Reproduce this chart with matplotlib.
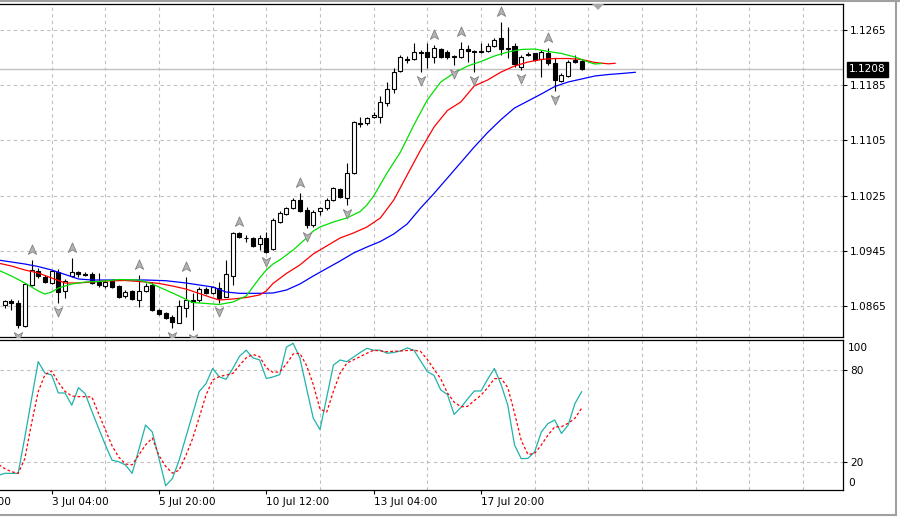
import matplotlib
matplotlib.use("Agg")
import matplotlib.pyplot as plt
import matplotlib.transforms as mtransforms
from matplotlib.path import Path
from matplotlib.lines import Line2D
from matplotlib.patches import Polygon
import numpy as np

# ---------------- data ----------------
bar_idx = list(range(9, 96))
opens = [1.08665, 1.08723, 1.08694, 1.08360, 1.08955, 1.09158, 1.09071, 1.08984, 1.09143, 1.08868,
         1.09085, 1.09143, 1.09114, 1.09114, 1.08998, 1.08940, 1.09013, 1.08940, 1.08795, 1.08868,
         1.08737, 1.08868, 1.08955, 1.08592, 1.08549, 1.08491, 1.08404, 1.08621, 1.08737, 1.08730,
         1.08897, 1.08839, 1.08911, 1.08781, 1.09085, 1.09709, 1.09636, 1.09636, 1.09549, 1.09636,
         1.09476, 1.09868, 1.09983, 1.10070, 1.10186, 1.10041, 1.09824, 1.10027, 1.10070, 1.10186,
         1.10346, 1.10215, 1.10578, 1.11302, 1.11302, 1.11389, 1.11389, 1.11593, 1.11795, 1.12056,
         1.12230, 1.12230, 1.12336, 1.12331, 1.12259, 1.12375, 1.12331, 1.12273, 1.12259, 1.12375,
         1.12339, 1.12339, 1.12346, 1.12418, 1.12534, 1.12389, 1.12418, 1.12118, 1.12302, 1.12312,
         1.12223, 1.12317, 1.12172, 1.11911, 1.11983, 1.12215, 1.12208]
highs = [1.08737, 1.08752, 1.08737, 1.08984, 1.09317, 1.09201, 1.09100, 1.09172, 1.09187, 1.09042,
         1.09346, 1.09158, 1.09143, 1.09143, 1.09129, 1.09027, 1.09042, 1.08955, 1.08882, 1.08882,
         1.09100, 1.08984, 1.08998, 1.08607, 1.08563, 1.08520, 1.08737, 1.09071, 1.08839, 1.08926,
         1.08926, 1.08940, 1.08998, 1.09317, 1.09723, 1.09723, 1.09679, 1.09651, 1.09679, 1.09723,
         1.09926, 1.10027, 1.10085, 1.10215, 1.10287, 1.10085, 1.10041, 1.10085, 1.10215, 1.10375,
         1.10360, 1.10723, 1.11331, 1.11389, 1.11389, 1.11462, 1.11694, 1.11897, 1.12099, 1.12288,
         1.12273, 1.12462, 1.12360, 1.12462, 1.12433, 1.12389, 1.12360, 1.12288, 1.12476, 1.12433,
         1.12360, 1.12462, 1.12462, 1.12534, 1.12766, 1.12694, 1.12462, 1.12288, 1.12336, 1.12324,
         1.12360, 1.12389, 1.12244, 1.12027, 1.12215, 1.12288, 1.12230]
lows = [1.08621, 1.08592, 1.08331, 1.08346, 1.08940, 1.09056, 1.08984, 1.08969, 1.08694, 1.08766,
        1.09071, 1.09071, 1.09085, 1.08969, 1.08926, 1.08911, 1.08911, 1.08766, 1.08766, 1.08737,
        1.08636, 1.08853, 1.08585, 1.08520, 1.08462, 1.08331, 1.08397, 1.08491, 1.08302, 1.08708,
        1.08824, 1.08824, 1.08694, 1.08775, 1.08955, 1.09636, 1.09578, 1.09505, 1.09462, 1.09418,
        1.09462, 1.09853, 1.09969, 1.10056, 1.10012, 1.09780, 1.09795, 1.09969, 1.10041, 1.10172,
        1.10215, 1.10114, 1.10563, 1.11244, 1.11273, 1.11375, 1.11302, 1.11549, 1.11737, 1.12041,
        1.12172, 1.12215, 1.12041, 1.12099, 1.12172, 1.12244, 1.12230, 1.12143, 1.12244, 1.12186,
        1.12041, 1.12317, 1.12331, 1.12404, 1.12288, 1.12244, 1.12114, 1.12070, 1.12273, 1.12201,
        1.11969, 1.12143, 1.11766, 1.11897, 1.11969, 1.12172, 1.12070]
closes = [1.08723, 1.08694, 1.08375, 1.08969, 1.09172, 1.09085, 1.08998, 1.09158, 1.08853, 1.09013,
          1.09143, 1.09114, 1.09100, 1.08984, 1.08955, 1.08998, 1.08926, 1.08781, 1.08853, 1.08752,
          1.08868, 1.08940, 1.08592, 1.08534, 1.08476, 1.08418, 1.08650, 1.08737, 1.08715, 1.08897,
          1.08839, 1.08926, 1.08766, 1.09114, 1.09708, 1.09651, 1.09629, 1.09520, 1.09636, 1.09433,
          1.09897, 1.09998, 1.10070, 1.10186, 1.10027, 1.09824, 1.10012, 1.10070, 1.10186, 1.10360,
          1.10230, 1.10578, 1.11317, 1.11288, 1.11375, 1.11418, 1.11607, 1.11795, 1.12041, 1.12260,
          1.12222, 1.12331, 1.12321, 1.12259, 1.12389, 1.12259, 1.12259, 1.12252, 1.12375, 1.12346,
          1.12331, 1.12331, 1.12418, 1.12505, 1.12375, 1.12378, 1.12157, 1.12263, 1.12295, 1.12215,
          1.12331, 1.12172, 1.11926, 1.11998, 1.12186, 1.12193, 1.12078]

# Alligator lines (already shifted forward: jaw 8, teeth 5, lips 3)
jaw_idx = [8, 10, 12, 14, 16, 18, 20, 22, 24, 27, 30, 33, 36, 38, 40, 42, 44, 47, 49, 50, 51, 53, 55, 57,
           59, 61, 63, 65, 67, 69, 71, 73, 75, 77, 79, 81, 83, 85, 87, 89, 91, 93, 95, 97, 99, 101, 103]
jaw_val = [1.09317, 1.09288, 1.09259, 1.09222, 1.09172, 1.09107, 1.09042, 1.09027, 1.09027, 1.09027,
           1.09027, 1.09017, 1.08984, 1.08955, 1.08926, 1.08853, 1.08834, 1.08834, 1.08839, 1.08860,
           1.08882, 1.08969, 1.09085, 1.09194, 1.09302, 1.09418, 1.09505, 1.09585, 1.09694, 1.09839,
           1.10070, 1.10281, 1.10505, 1.10730, 1.10955, 1.11165, 1.11353, 1.11520, 1.11621, 1.11723,
           1.11831, 1.11897, 1.11940, 1.11984, 1.12005, 1.12020, 1.12037]
teeth_idx = [8, 10, 12, 14, 16, 18, 20, 22, 24, 27, 30, 32, 34, 36, 38, 40, 41, 43, 45, 47, 48, 49, 51,
             53, 55, 57, 59, 61, 63, 65, 67, 69, 71, 73, 75, 77, 79, 81, 83, 85, 87, 89, 91, 93, 95,
             97, 99, 100]
teeth_val = [1.09273, 1.09230, 1.09172, 1.09129, 1.09056, 1.08984, 1.08984, 1.08998, 1.09013, 1.09020,
             1.08998, 1.08977, 1.08940, 1.08897, 1.08832, 1.08766, 1.08737, 1.08752, 1.08773, 1.08810,
             1.08868, 1.08977, 1.09122, 1.09245, 1.09404, 1.09520, 1.09636, 1.09709, 1.09795, 1.09926,
             1.10186, 1.10549, 1.10911, 1.11244, 1.11484, 1.11607, 1.11839, 1.11926, 1.12041, 1.12128,
             1.12186, 1.12223, 1.12237, 1.12237, 1.12223, 1.12179, 1.12160, 1.12168]
lips_idx = [8, 10, 12, 14, 15, 16, 17, 19, 21, 23, 26, 29, 31, 33, 35, 37, 39, 41, 43, 45, 46, 47, 48,
            49, 50, 52, 53, 54, 55, 56, 58, 60, 62, 63, 64, 66, 68, 70, 72, 74, 76, 78, 80, 82, 84,
            86, 88, 90, 92, 94, 96, 97, 98]
lips_val = [1.09172, 1.09085, 1.08984, 1.08868, 1.08824, 1.08853, 1.08911, 1.08969, 1.08998, 1.09005,
            1.09034, 1.09027, 1.08969, 1.08882, 1.08795, 1.08701, 1.08687, 1.08672, 1.08708, 1.08795,
            1.08926, 1.09056, 1.09172, 1.09259, 1.09317, 1.09462, 1.09549, 1.09636, 1.09737, 1.09795,
            1.09868, 1.09926, 1.10020, 1.10114, 1.10244, 1.10578, 1.10882, 1.11273, 1.11636, 1.11897,
            1.12027, 1.12128, 1.12194, 1.12273, 1.12331, 1.12368, 1.12375, 1.12339, 1.12310, 1.12259,
            1.12186, 1.12157, 1.12165]

fractal_up_idx = [13, 19, 29, 36, 44, 53, 73, 77, 83, 90]
fractal_down_idx = [11, 17, 34, 37, 41, 48, 54, 60, 71, 76, 79, 86, 91]

# Stochastic oscillator
stoch_idx = list(range(8, 96))
stoch_k = [11, 12.4, 12.4, 12.4, 36, 61, 85.5, 78, 76.8, 65, 65, 57, 68.5, 64.5, 53, 41.9, 31, 21, 20,
           17.9, 12.4, 28, 44, 39.5, 22, 4.3, 9, 21, 36, 51, 66, 71, 81, 75.5, 74, 81, 89, 93, 88, 86.6,
           74.5, 75.5, 77, 95, 97.5, 88, 68, 48.5, 41, 62, 83.3, 86.6, 85.5, 88.5, 91.5, 94.2, 93, 93,
           91, 91.5, 92.5, 94.5, 93, 86, 79, 76.5, 67, 64, 51, 55.5, 61, 66.3, 66.3, 74, 81, 70.5, 57,
           31, 22, 22.2, 26.5, 39.5, 45, 47.3, 38.5, 44, 58, 65.8]
stoch_d = [18.5, 15.5, 13.5, 12.4, 22, 45, 66, 77, 79.4, 72, 66, 63, 62.6, 62.6, 62.3, 51.5, 41, 30.5,
           23, 18.5, 18, 24.5, 31, 35.5, 24, 17, 12.5, 14.5, 24, 35, 49, 63.5, 73.5, 75.8, 76.7, 77.8,
           83, 88, 90.2, 88.8, 81.5, 78.5, 78.8, 84, 90.5, 91, 83, 70.5, 54.5, 52.5, 66, 78, 84.5, 86.7,
           88.8, 91, 93, 92.5, 92, 92.3, 92.5, 92.8, 93, 92.2, 87, 80.5, 74.3, 65, 59, 56, 56.2, 60,
           63.5, 68.5, 74.3, 74.6, 68.5, 52, 34, 24.8, 25.4, 31, 37.5, 42.8, 42.9, 45.2, 48.4, 55]

price_ticks = [1.0865, 1.0945, 1.1025, 1.1105, 1.1185, 1.1265]
price_labels = ["1.0865", "1.0945", "1.1025", "1.1105", "1.1185", "1.1265"]
date_idx = [0, 16, 32, 48, 64, 80]
date_labels = ["28 Jun 12:00", "3 Jul 04:00", "5 Jul 20:00", "10 Jul 12:00", "13 Jul 04:00", "17 Jul 20:00"]
grid_step = 8

# ---------------- layout ----------------
W, H = 900, 518
fig = plt.figure(figsize=(W / 100, H / 100), dpi=100)
fig.patch.set_facecolor("white")
FS = 7.6
plt.rcParams["font.family"] = ["DejaVu Sans"]


def rect(x0, y0, x1, y1):
    return [x0 / W, 1 - y1 / H, (x1 - x0) / W, (y1 - y0) / H]


ax = fig.add_axes(rect(0, 4, 843, 337))
ax2 = fig.add_axes(rect(0, 339.5, 843, 490))
XLIM = (8.30, 133.97)
GRID = dict(color="#c0c0c0", linestyle=(0, (3, 3)), linewidth=0.8)

for a in (ax, ax2):
    a.spines["left"].set_visible(False)
    for s in ("top", "right", "bottom"):
        a.spines[s].set_linewidth(0.9)
        a.spines[s].set_color("black")
    a.set_xticks(np.arange(8, XLIM[1] + 1, grid_step), minor=True)
    a.tick_params(axis="x", which="minor", length=0)
    a.grid(True, which="minor", axis="x", **GRID)
    a.yaxis.tick_right()
    a.tick_params(axis="y", which="major", length=3, width=0.8, pad=2, labelsize=FS, colors="black")
    a.set_axisbelow(True)

# ---------------- main panel ----------------
ax.set_yticks(price_ticks)
ax.set_yticklabels(price_labels)
ax.grid(True, which="major", axis="y", **GRID)
ax.set_xticks([])

x = np.array(bar_idx, dtype=float)
o = np.array(opens); h = np.array(highs); l = np.array(lows); c = np.array(closes)
bull = c >= o
ax.vlines(x, l, h, color="black", lw=0.8, zorder=3)
bottom = np.minimum(o, c)
height = np.maximum(np.abs(c - o), 0.00001)
ax.bar(x[bull], height[bull], bottom=bottom[bull], width=0.6, color="white",
       edgecolor="black", linewidth=0.8, zorder=4)
ax.bar(x[~bull], height[~bull], bottom=bottom[~bull], width=0.6, color="black",
       edgecolor="black", linewidth=0.8, zorder=4)

ax.plot(jaw_idx, jaw_val, color="#0000ff", lw=0.9, zorder=5)
ax.plot(teeth_idx, teeth_val, color="#ff0000", lw=0.9, zorder=5)
ax.plot(lips_idx, lips_val, color="#00e000", lw=0.9, zorder=5)

# current price line + label
last = closes[-1]
ax.axhline(last, color="#c0c0c0", lw=1.0, zorder=1)
blend = mtransforms.blended_transform_factory(ax.transAxes, ax.transData)
ax.text(1.0 + 6 / 843, last, f"{last:.4f}", transform=blend, ha="left", va="center",
        fontsize=FS, color="white", zorder=10, clip_on=False,
        bbox=dict(boxstyle="square,pad=0.2", fc="black", ec="black"))

# fractals
up_path = Path([(0, 1), (0.75, -0.7), (0, -0.25), (-0.75, -0.7), (0, 1)],
               [Path.MOVETO, Path.LINETO, Path.LINETO, Path.LINETO, Path.CLOSEPOLY])
down_path = Path([(0, -1), (0.75, 0.7), (0, 0.25), (-0.75, 0.7), (0, -1)],
                 [Path.MOVETO, Path.LINETO, Path.LINETO, Path.LINETO, Path.CLOSEPOLY])
up_tr = mtransforms.offset_copy(ax.transData, fig=fig, y=10, units="dots")
dn_tr = mtransforms.offset_copy(ax.transData, fig=fig, y=-8, units="dots")
hi_map = dict(zip(bar_idx, highs)); lo_map = dict(zip(bar_idx, lows))
ax.plot(fractal_up_idx, [hi_map[i] for i in fractal_up_idx], ls="none", marker=up_path, ms=8,
        mfc="#b4b4b4", mec="#808080", mew=0.6, transform=up_tr, zorder=6)
ax.plot(fractal_down_idx, [lo_map[i] for i in fractal_down_idx], ls="none", marker=down_path, ms=8,
        mfc="#b4b4b4", mec="#808080", mew=0.6, transform=dn_tr, zorder=6)

# chart shift marker
ax.add_patch(Polygon([(592 / 843, 1.0), (604 / 843, 1.0), (598 / 843, 1 - 6 / 333)],
                     closed=True, transform=ax.transAxes, fc="#a8a8a8", ec="none", zorder=7))

# ---------------- stochastic panel ----------------
ax2.set_yticks([80, 20])
ax2.set_yticklabels(["80", "20"])
ax2.grid(True, which="major", axis="y", **GRID)
ax2.plot(stoch_idx, stoch_k, color="#20b2aa", lw=0.9, zorder=5)
ax2.plot(stoch_idx, stoch_d, color="#ff0000", lw=0.9, ls=(0, (2.2, 1.8)), zorder=5)
ytr = mtransforms.blended_transform_factory(ax2.transAxes, ax2.transAxes)
ax2.text(1.0 + 5 / 843, (490 - 348) / 150.5, "100", transform=ytr, ha="left", va="center",
         fontsize=FS, clip_on=False)
ax2.text(1.0 + 5 / 843, (490 - 483) / 150.5, "0", transform=ytr, ha="left", va="center",
         fontsize=FS, clip_on=False)

vis = [i for i in date_idx if XLIM[0] <= i <= XLIM[1]]
ax2.set_xticks(vis)
ax2.set_xticklabels([""] * len(vis))
ax2.tick_params(axis="x", which="major", length=3, width=0.8)
dtr = mtransforms.offset_copy(mtransforms.blended_transform_factory(ax2.transData, ax2.transAxes),
                              fig=fig, y=-12, units="dots")
for i, lab in zip(date_idx, date_labels):
    ax2.text(i, 0, lab, transform=dtr, ha="left", va="center", fontsize=FS, clip_on=False)

# final view limits (set last so tick setting cannot widen them)
for a in (ax, ax2):
    a.set_xlim(*XLIM)
ax.set_ylim(1.08201, 1.13027)
ax2.set_ylim(1.5, 100)

# window frame
for (x0, y0, x1, y1) in [(0, 1, 900, 1), (896, 0, 896, 515), (0, 515, 896, 515)]:
    fig.add_artist(Line2D([x0 / W, x1 / W], [1 - y0 / H, 1 - y1 / H], color="#a0a0a0", lw=1.5,
                          transform=fig.transFigure))

fig.savefig("out.png", dpi=100, facecolor="white")
